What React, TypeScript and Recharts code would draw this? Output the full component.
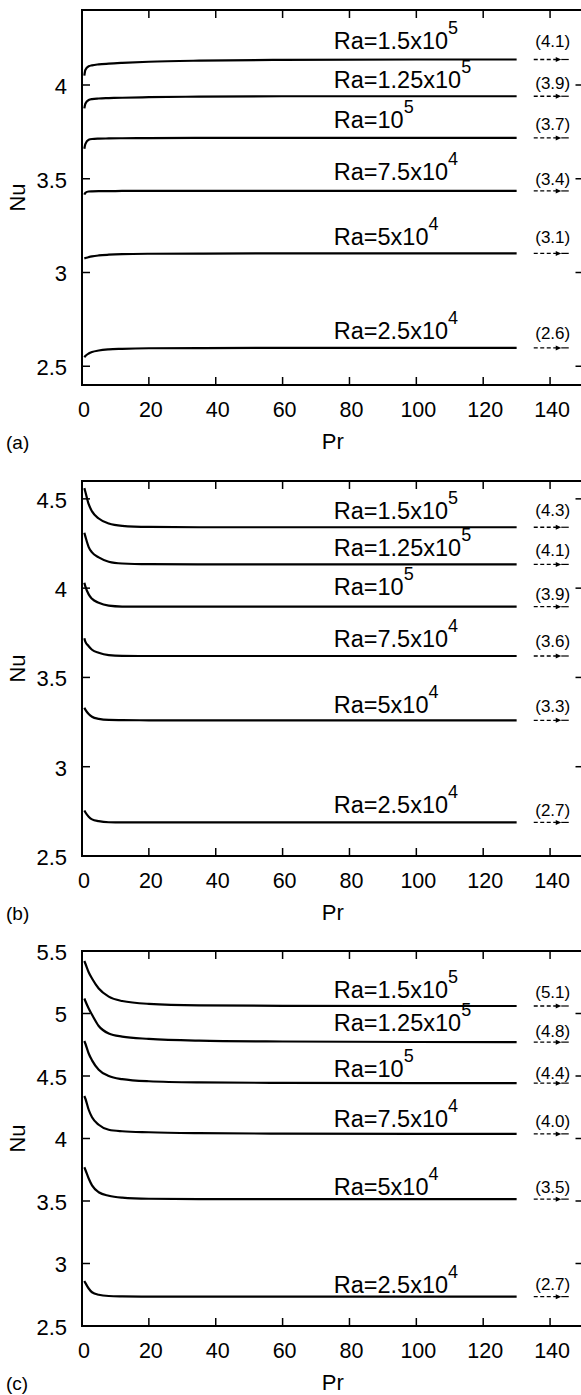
import { LineChart, Line, XAxis, YAxis, ReferenceArea, ReferenceDot } from "recharts";

// Prandtl number grid shared by every curve
const PR = [0.7, 1, 2, 3, 5, 8, 12, 20, 35, 60, 100, 130];
const X_TICKS = [0, 20, 40, 60, 80, 100, 120, 140];

const RA_BASE = ["Ra=1.5x10", "Ra=1.25x10", "Ra=10", "Ra=7.5x10", "Ra=5x10", "Ra=2.5x10"];
const RA_EXP = ["5", "5", "5", "4", "4", "4"];

// panel (a)
const NU_A_150K = [4.05, 4.08, 4.1, 4.105, 4.11, 4.114, 4.118, 4.124, 4.13, 4.134, 4.136, 4.136];
const NU_A_125K = [3.875, 3.9, 3.92, 3.925, 3.928, 3.93, 3.932, 3.935, 3.938, 3.94, 3.94, 3.94];
const NU_A_100K = [3.66, 3.685, 3.708, 3.712, 3.714, 3.715, 3.716, 3.717, 3.718, 3.718, 3.718, 3.718];
const NU_A_75K = [3.415, 3.425, 3.432, 3.433, 3.434, 3.434, 3.435, 3.435, 3.435, 3.435, 3.435, 3.435];
const NU_A_50K = [3.075, 3.077, 3.082, 3.086, 3.091, 3.095, 3.098, 3.1, 3.101, 3.102, 3.102, 3.102];
const NU_A_25K = [2.548, 2.555, 2.568, 2.576, 2.584, 2.59, 2.593, 2.596, 2.597, 2.598, 2.598, 2.598];
const ASYM_A = ["(4.1)", "(3.9)", "(3.7)", "(3.4)", "(3.1)", "(2.6)"];
const Y_TICKS_A = [2.5, 3, 3.5, 4];

// panel (b)
const NU_B_150K = [4.56, 4.54, 4.47, 4.43, 4.39, 4.362, 4.349, 4.343, 4.341, 4.341, 4.341, 4.341];
const NU_B_125K = [4.31, 4.29, 4.23, 4.2, 4.172, 4.148, 4.138, 4.134, 4.133, 4.133, 4.133, 4.133];
const NU_B_100K = [4.03, 4.01, 3.965, 3.94, 3.918, 3.902, 3.897, 3.896, 3.896, 3.896, 3.896, 3.896];
const NU_B_75K = [3.72, 3.7, 3.675, 3.655, 3.638, 3.625, 3.621, 3.62, 3.62, 3.62, 3.62, 3.62];
const NU_B_50K = [3.33, 3.32, 3.295, 3.28, 3.268, 3.262, 3.261, 3.26, 3.26, 3.26, 3.26, 3.26];
const NU_B_25K = [2.755, 2.745, 2.72, 2.705, 2.695, 2.689, 2.688, 2.688, 2.688, 2.688, 2.688, 2.688];
const ASYM_B = ["(4.3)", "(4.1)", "(3.9)", "(3.6)", "(3.3)", "(2.7)"];
const Y_TICKS_B = [2.5, 3, 3.5, 4, 4.5];

// panel (c)
const NU_C_150K = [5.42, 5.4, 5.33, 5.28, 5.2, 5.135, 5.1, 5.077, 5.065, 5.061, 5.06, 5.06];
const NU_C_125K = [5.12, 5.1, 5.04, 4.99, 4.9, 4.84, 4.815, 4.797, 4.783, 4.776, 4.772, 4.771];
const NU_C_100K = [4.78, 4.76, 4.68, 4.625, 4.55, 4.5, 4.475, 4.458, 4.449, 4.445, 4.443, 4.443];
const NU_C_75K = [4.34, 4.32, 4.23, 4.17, 4.11, 4.07, 4.058, 4.05, 4.043, 4.039, 4.037, 4.037];
const NU_C_50K = [3.77, 3.75, 3.68, 3.625, 3.57, 3.542, 3.527, 3.518, 3.515, 3.515, 3.515, 3.515];
const NU_C_25K = [2.86, 2.845, 2.8, 2.77, 2.75, 2.74, 2.737, 2.735, 2.735, 2.735, 2.735, 2.735];
const ASYM_C = ["(5.1)", "(4.8)", "(4.4)", "(4.0)", "(3.5)", "(2.7)"];
const Y_TICKS_C = [2.5, 3, 3.5, 4, 4.5, 5, 5.5];

// layout
const FONT = '"Liberation Sans", Arial, Helvetica, sans-serif';
const CHART_W = 600;
const PLOT_LEFT = 82;
const PLOT_W = 501.5;
const PLOT_H = 375;
const M_TOP = 15;
const X_AXIS_H = 85;
const CHART_H = M_TOP + PLOT_H + X_AXIS_H + 5;
const RA_LABEL_PR = 75.3;
const ASYM_PR = 140.8;

const RA_LIFT_A = [11, 8, 10, 10.5, 8, 8.5];
const RA_LIFT_B = [8, 8, 12, 9, 7, 9.5];
const RA_LIFT_C = [8.5, 11, 6, 6.5, 4, 3.5];
const ASYM_LIFT_A = [13, 7, 8, 6, 10, 9];
const ASYM_LIFT_B = [11, 8, 7, 9, 8, 6];
const ASYM_LIFT_C = [8, 5, 4.5, 6.5, 6.5, 6.5];

function XTick(props: any) {
  const { x, y, payload } = props;
  return (
    <g>
      <line x1={x} x2={x} y1={y} y2={y - 8} stroke="#000" strokeWidth={1.5} />
      <line x1={x} x2={x} y1={y - PLOT_H} y2={y - PLOT_H + 8} stroke="#000" strokeWidth={1.5} />
      <text x={x + 2} y={y + 32} textAnchor="middle" fontSize={21.5} fontFamily={FONT} fill="#000">
        {payload.value}
      </text>
    </g>
  );
}

function YTick(props: any) {
  const { x, y, payload } = props;
  return (
    <g>
      <line x1={x} x2={x + 8} y1={y} y2={y} stroke="#000" strokeWidth={1.5} />
      <line x1={x + PLOT_W - 8} x2={x + PLOT_W} y1={y} y2={y} stroke="#000" strokeWidth={1.5} />
      <text x={x - 15} y={y} dy="0.4em" textAnchor="end" fontSize={22} fontFamily={FONT} fill="#000">
        {payload.value}
      </text>
    </g>
  );
}

function Panel({
  tag,
  top,
  series,
  yDomain,
  yTicks,
  asym,
  raLift,
  asymLift,
}: {
  tag: string;
  top: number;
  series: number[][];
  yDomain: [number, number];
  yTicks: number[];
  asym: string[];
  raLift: number[];
  asymLift: number[];
}) {
  return (
    <div style={{ position: "absolute", left: 0, top: top - M_TOP }}>
      <LineChart
        width={CHART_W}
        height={CHART_H}
        margin={{ top: M_TOP, right: CHART_W - PLOT_LEFT - PLOT_W, bottom: 5, left: 0 }}
      >
        <XAxis
          dataKey="pr"
          type="number"
          domain={[0, 150]}
          allowDataOverflow
          ticks={X_TICKS}
          interval={0}
          height={X_AXIS_H}
          axisLine={false}
          tickLine={false}
          tickSize={0}
          tickMargin={0}
          tick={<XTick />}
          label={(p: any) => {
            const vb = p.viewBox;
            return (
              <g>
                <text x={vb.x + vb.width / 2} y={vb.y + 64} textAnchor="middle" fontSize={22} fontFamily={FONT} fill="#000">
                  Pr
                </text>
                <text x={6} y={vb.y + 64} fontSize={19} fontFamily={FONT} fill="#000">
                  {tag}
                </text>
              </g>
            );
          }}
        />
        <YAxis
          type="number"
          domain={yDomain}
          allowDataOverflow
          ticks={yTicks}
          interval={0}
          width={PLOT_LEFT}
          axisLine={false}
          tickLine={false}
          tickSize={0}
          tickMargin={0}
          tick={<YTick />}
          label={(p: any) => {
            const vb = p.viewBox;
            const cy = vb.y + vb.height / 2;
            return (
              <text
                x={25}
                y={cy}
                transform={`rotate(-90 25 ${cy})`}
                textAnchor="middle"
                fontSize={22}
                fontFamily={FONT}
                fill="#000"
              >
                Nu
              </text>
            );
          }}
        />
        <ReferenceArea
          x1={0}
          x2={150}
          y1={yDomain[0]}
          y2={yDomain[1]}
          fill="none"
          fillOpacity={0}
          stroke="#000"
          strokeWidth={2}
          ifOverflow="visible"
        />
        {series.map((nu, i) => (
          <Line
            key={i}
            data={PR.map((pr, j) => ({ pr, nu: nu[j] }))}
            dataKey="nu"
            type="monotone"
            stroke="#000"
            strokeWidth={2.2}
            dot={false}
            activeDot={false}
            isAnimationActive={false}
          />
        ))}
        {series.map((nu, i) => (
          <ReferenceDot
            key={"ra" + i}
            x={RA_LABEL_PR}
            y={nu[nu.length - 1]}
            r={1}
            ifOverflow="visible"
            shape={(p: any) => (
              <text x={p.cx} y={p.cy - raLift[i]} fontSize={23.5} fontFamily={FONT} fill="#000">
                {RA_BASE[i]}
                <tspan dy={-15} fontSize={18}>
                  {RA_EXP[i]}
                </tspan>
              </text>
            )}
          />
        ))}
        {series.map((nu, i) => (
          <ReferenceDot
            key={"as" + i}
            x={ASYM_PR}
            y={nu[nu.length - 1]}
            r={1}
            ifOverflow="visible"
            shape={(p: any) => {
              const cx = p.cx;
              const cy = p.cy;
              return (
                <g>
                  <text x={cx} y={cy - asymLift[i]} textAnchor="middle" fontSize={17} fontFamily={FONT} fill="#000">
                    {asym[i]}
                  </text>
                  <line x1={cx - 19} x2={cx + 3.5} y1={cy} y2={cy} stroke="#000" strokeWidth={1.3} strokeDasharray="4 2.5" />
                  <path d={`M${cx + 3} ${cy - 2.5} L${cx + 8.5} ${cy} L${cx + 3} ${cy + 2.5} Z`} fill="#000" />
                  <line x1={cx + 8.5} x2={cx + 16} y1={cy} y2={cy} stroke="#000" strokeWidth={1.2} />
                </g>
              );
            }}
          />
        ))}
      </LineChart>
    </div>
  );
}

export default function App() {
  return (
    <div
      style={{
        position: "absolute",
        left: 0,
        top: 0,
        width: 581,
        height: 1395,
        overflow: "hidden",
        background: "#fff",
      }}
    >
      <Panel
        tag="(a)"
        top={10}
        series={[NU_A_150K, NU_A_125K, NU_A_100K, NU_A_75K, NU_A_50K, NU_A_25K]}
        yDomain={[2.4, 4.4]}
        yTicks={Y_TICKS_A}
        asym={ASYM_A}
        raLift={RA_LIFT_A}
        asymLift={ASYM_LIFT_A}
      />
      <Panel
        tag="(b)"
        top={481}
        series={[NU_B_150K, NU_B_125K, NU_B_100K, NU_B_75K, NU_B_50K, NU_B_25K]}
        yDomain={[2.5, 4.6]}
        yTicks={Y_TICKS_B}
        asym={ASYM_B}
        raLift={RA_LIFT_B}
        asymLift={ASYM_LIFT_B}
      />
      <Panel
        tag="(c)"
        top={951}
        series={[NU_C_150K, NU_C_125K, NU_C_100K, NU_C_75K, NU_C_50K, NU_C_25K]}
        yDomain={[2.5, 5.5]}
        yTicks={Y_TICKS_C}
        asym={ASYM_C}
        raLift={RA_LIFT_C}
        asymLift={ASYM_LIFT_C}
      />
    </div>
  );
}
